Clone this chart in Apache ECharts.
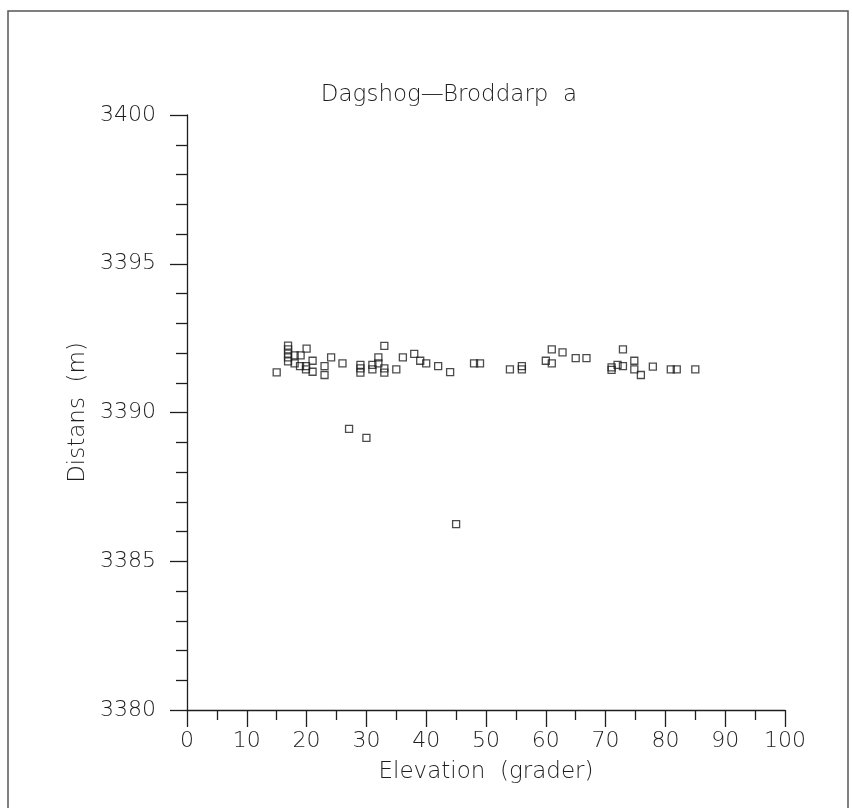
<!DOCTYPE html>
<html>
<head>
<meta charset="utf-8">
<script src="https://cdn.jsdelivr.net/npm/echarts@6/dist/echarts.min.js"></script>
<style>
  html, body { margin: 0; padding: 0; background: #fff; }
  #chart { width: 852px; height: 808px; }
</style>
</head>
<body>
<div id="chart"></div>
<script>
const titleText = 'Dagshog\u2014Broddarp  a';
const xName = 'Elevation  (grader)';
const yName = 'Distans  (m)';
const xTicks = [0, 10, 20, 30, 40, 50, 60, 70, 80, 90, 100];
const yTicks = [3380, 3385, 3390, 3395, 3400];

const elevation = [
  15.0,
  16.9, 16.9, 16.9, 16.9, 16.9,
  18.0, 18.0, 19.0, 20.0,
  18.9, 19.9, 19.9,
  21.0, 21.0,
  23.0, 23.0,
  24.1,
  26.0,
  27.1,
  29.0, 29.0, 29.0,
  30.0,
  31.0, 31.0,
  32.0, 32.0,
  33.0, 33.0, 33.0,
  35.0,
  36.1, 38.0, 39.0, 40.0, 42.0, 44.0,
  45.0,
  48.0, 49.0,
  54.0, 56.0, 56.0,
  60.0, 61.0, 61.0, 62.8, 65.0, 66.8,
  71.0, 71.0, 72.0, 72.9, 72.9,
  74.8, 74.8, 75.9, 77.9, 80.9, 81.9, 85.0
];
const distance = [
  3391.35,
  3392.25, 3392.12, 3391.98, 3391.85, 3391.72,
  3391.65, 3391.92, 3391.92, 3392.15,
  3391.56, 3391.56, 3391.45,
  3391.74, 3391.37,
  3391.56, 3391.26,
  3391.85,
  3391.65,
  3389.45,
  3391.60, 3391.48, 3391.34,
  3389.15,
  3391.60, 3391.45,
  3391.85, 3391.65,
  3392.24, 3391.48, 3391.34,
  3391.45,
  3391.85, 3391.97, 3391.74, 3391.65, 3391.56, 3391.36,
  3386.25,
  3391.65, 3391.65,
  3391.45, 3391.56, 3391.45,
  3391.74, 3392.12, 3391.65, 3392.02, 3391.83, 3391.83,
  3391.52, 3391.43, 3391.60, 3392.12, 3391.56,
  3391.74, 3391.45, 3391.26, 3391.54, 3391.45, 3391.45, 3391.45
];

const points = elevation.map((x, i) => [x, distance[i]]);
const ink = '#1e1e1e';
const font = 'DejaVu Sans';

const chart = echarts.init(document.getElementById('chart'), null, { renderer: 'canvas' });
chart.setOption({
  backgroundColor: '#fff',
  animation: false,
  grid: { left: 187, right: 67, top: 115, bottom: 98, containLabel: false },
  graphic: [
    {
      type: 'rect',
      shape: { x: 8, y: 11, width: 840, height: 810 },
      style: { fill: 'none', stroke: '#555', lineWidth: 1.5 },
      silent: true
    },
    {
      type: 'text',
      x: 449, y: 95,
      style: {
        text: titleText, fill: ink, font: '300 23px "DejaVu Sans"',
        textAlign: 'center', textVerticalAlign: 'middle'
      }
    }
  ],
  xAxis: {
    type: 'value',
    min: xTicks[0], max: xTicks[xTicks.length - 1], interval: 10,
    name: xName, nameLocation: 'middle', nameGap: 51,
    nameTextStyle: { color: ink, fontSize: 23, fontFamily: font, fontWeight: 300 },
    axisLine: { show: true, onZero: false, lineStyle: { color: ink, width: 1.3 } },
    axisTick: { show: true, inside: false, length: 17, lineStyle: { color: ink, width: 1.3 } },
    minorTick: { show: true, splitNumber: 2, length: 10, lineStyle: { color: ink, width: 1.3 } },
    axisLabel: { color: ink, fontSize: 22, fontFamily: font, fontWeight: 300, margin: 20,
                 formatter: v => String(v) },
    splitLine: { show: false }
  },
  yAxis: {
    type: 'value',
    min: yTicks[0], max: yTicks[yTicks.length - 1], interval: 5,
    name: yName, nameLocation: 'middle', nameGap: 91,
    nameTextStyle: { color: ink, fontSize: 23, fontFamily: font, fontWeight: 300 },
    axisLine: { show: true, onZero: false, lineStyle: { color: ink, width: 1.3 } },
    axisTick: { show: true, inside: false, length: 17, lineStyle: { color: ink, width: 1.3 } },
    minorTick: { show: true, splitNumber: 5, length: 11, lineStyle: { color: ink, width: 1.3 } },
    axisLabel: { color: ink, fontSize: 22, fontFamily: font, fontWeight: 300, margin: 31,
                 formatter: v => String(v) },
    splitLine: { show: false }
  },
  series: [{
    type: 'scatter',
    data: points,
    symbol: 'rect',
    symbolSize: 7,
    itemStyle: { color: 'rgba(0,0,0,0)', borderColor: ink, borderWidth: 1.3 }
  }]
});
</script>
</body>
</html>
